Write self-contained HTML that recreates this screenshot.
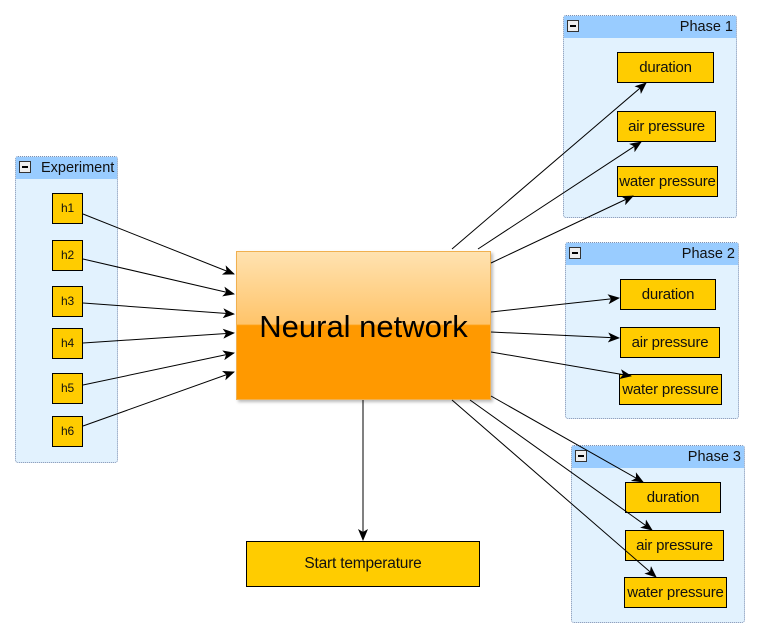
<!DOCTYPE html>
<html><head><style>
body{margin:0;width:759px;height:637px;background:#fff;position:relative;overflow:hidden;font-family:"Liberation Sans",sans-serif}
.g{position:absolute;background:#e2f2fe;border:1px dotted #7f8fb0;border-radius:3px;box-sizing:border-box}
.gh{position:absolute;left:0;right:0;top:0;height:22px;background:#99ccff;font-size:14.5px;line-height:22px;color:#111}
.mn{position:absolute;left:3px;top:4px;width:12px;height:12px;border:1px solid #333;background:#eee;box-sizing:border-box}
.mn:after{content:"";position:absolute;left:2px;top:4px;width:6px;height:2px;background:#000}
.n{position:absolute;background:#ffcc00;border:1px solid #000;box-sizing:border-box;text-align:center;font-size:15px;color:#111;white-space:nowrap;overflow:hidden;letter-spacing:-0.2px}
.h{font-size:12px}
</style></head><body>
<div class="g" style="left:15px;top:156px;width:103px;height:307px"><div class="gh"><div class="mn"></div><span style="position:absolute;left:25px">Experiment</span></div></div>
<div class="g" style="left:563px;top:15px;width:174px;height:203px"><div class="gh"><div class="mn"></div><span style="position:absolute;right:3px">Phase 1</span></div></div>
<div class="g" style="left:565px;top:242px;width:174px;height:177px"><div class="gh"><div class="mn"></div><span style="position:absolute;right:3px">Phase 2</span></div></div>
<div class="g" style="left:571px;top:445px;width:174px;height:178px"><div class="gh"><div class="mn"></div><span style="position:absolute;right:3px">Phase 3</span></div></div>

<div class="n h" style="left:52px;top:193px;width:31px;height:31px;line-height:29px">h1</div>
<div class="n h" style="left:52px;top:240px;width:31px;height:31px;line-height:29px">h2</div>
<div class="n h" style="left:52px;top:286px;width:31px;height:31px;line-height:29px">h3</div>
<div class="n h" style="left:52px;top:328px;width:31px;height:31px;line-height:29px">h4</div>
<div class="n h" style="left:52px;top:373px;width:31px;height:31px;line-height:29px">h5</div>
<div class="n h" style="left:52px;top:416px;width:31px;height:31px;line-height:29px">h6</div>

<div class="n" style="left:617px;top:52px;width:97px;height:31px;line-height:29px">duration</div>
<div class="n" style="left:617px;top:111px;width:99px;height:31px;line-height:29px">air pressure</div>
<div class="n" style="left:617px;top:166px;width:101px;height:31px;line-height:29px">water pressure</div>
<div class="n" style="left:620px;top:279px;width:96px;height:31px;line-height:29px">duration</div>
<div class="n" style="left:620px;top:327px;width:100px;height:31px;line-height:29px">air pressure</div>
<div class="n" style="left:619px;top:374px;width:103px;height:31px;line-height:29px">water pressure</div>
<div class="n" style="left:625px;top:482px;width:96px;height:31px;line-height:29px">duration</div>
<div class="n" style="left:625px;top:530px;width:99px;height:31px;line-height:29px">air pressure</div>
<div class="n" style="left:624px;top:577px;width:103px;height:31px;line-height:29px">water pressure</div>
<div class="n" style="left:246px;top:541px;width:234px;height:46px;line-height:44px;font-size:15.5px">Start temperature</div>

<div style="position:absolute;left:236px;top:251px;width:255px;height:149px;border:1px solid #f0b050;box-sizing:border-box;box-shadow:2px 2px 3px #bbb;background:linear-gradient(#ffe2b0 0%,#ffc46a 49%,#ff9900 50%,#ff9900 100%);font-size:31px;text-align:center;line-height:149px;color:#000">Neural network</div>

<svg width="759" height="637" style="position:absolute;left:0;top:0">
<defs><marker id="a" markerWidth="12" markerHeight="10" refX="11" refY="5" orient="auto" markerUnits="userSpaceOnUse"><path d="M0,0 L12,5 L0,10 L3,5z" fill="#000"/></marker></defs>
<g stroke="#000" stroke-width="1" marker-end="url(#a)" fill="none">
<line x1="83" y1="214" x2="234" y2="274"/>
<line x1="83" y1="259" x2="234" y2="294"/>
<line x1="83" y1="303" x2="234" y2="314"/>
<line x1="83" y1="343" x2="234" y2="333"/>
<line x1="83" y1="385" x2="234" y2="353"/>
<line x1="83" y1="426" x2="234" y2="372"/>
<line x1="452" y1="249" x2="646" y2="83"/>
<line x1="478" y1="249" x2="641" y2="142"/>
<line x1="491" y1="263" x2="633" y2="196"/>
<line x1="491" y1="312" x2="619" y2="298"/>
<line x1="491" y1="332" x2="619" y2="338"/>
<line x1="491" y1="352" x2="631" y2="376"/>
<line x1="491" y1="396" x2="643" y2="482"/>
<line x1="470" y1="400" x2="652" y2="530"/>
<line x1="452" y1="400" x2="656" y2="577"/>
<line x1="363" y1="400" x2="363" y2="540"/>
</g></svg>
</body></html>
